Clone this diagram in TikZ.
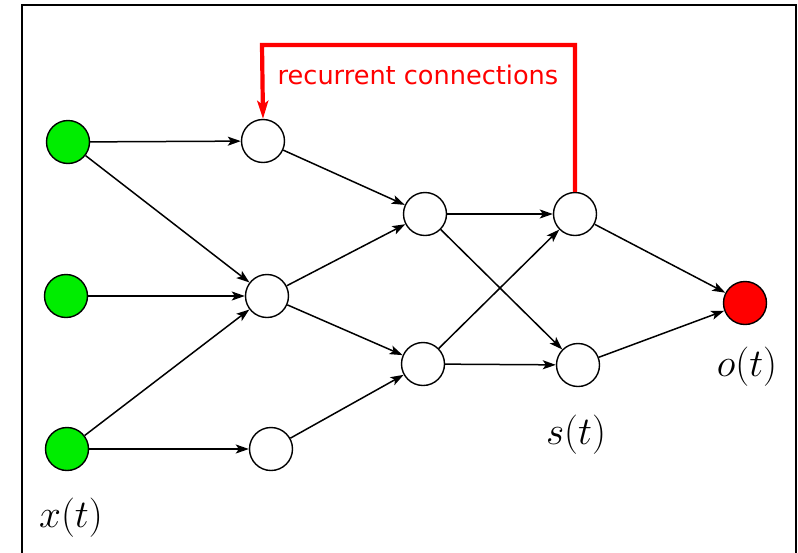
\documentclass[tikz,border=0pt]{standalone}
\usepackage{amsmath}
\usepackage{fontspec}
\usepackage{xcolor}
\usepackage{tikz}
\usetikzlibrary{arrows.meta}
\newfontfamily\labelfont{DejaVu Sans}
\definecolor{vert}{rgb}{0.0, 0.93, 0.0}
\definecolor{rouge}{rgb}{1.0, 0.0, 0.0}

\begin{document}
\begin{tikzpicture}[x=1pt, y=-1pt,
    neuron/.style={circle, draw, line width=1.4pt, minimum size=43pt, inner sep=0pt, fill=white},
    conn/.style={line width=1.5pt, -{Stealth[length=13pt, width=9pt, inset=3pt]}},
    lab/.style={font=\fontsize{24.88}{30}\selectfont, scale=1.58}]
            \clip (0,0) rectangle (798,552);
            % Cadre
            \draw[line width=1.8pt] (22,5) rectangle (796,570);

            % Entrees
            \node[neuron, fill=vert] (in1) at (68,142) {};
            \node[neuron, fill=vert] (in2) at (66,296) {};
            \node[neuron, fill=vert] (in3) at (67,449) {};

            % Couches cachees
            \node[neuron] (ha) at (263,141) {};
            \node[neuron] (hb) at (267,296) {};
            \node[neuron] (hc) at (271,449) {};
            \node[neuron] (ka) at (425,214) {};
            \node[neuron] (kb) at (423,364) {};
            \node[neuron] (sa) at (575,214) {};
            \node[neuron] (sb) at (578,365) {};

            % Sortie
            \node[neuron, fill=rouge] (out) at (745,303) {};

            % Connexions
            \draw[conn] (in1) -- (ha);
            \draw[conn] (in1) -- (hb);
            \draw[conn] (in2) -- (hb);
            \draw[conn] (in3) -- (hb);
            \draw[conn] (in3) -- (hc);
            \draw[conn] (ha) -- (ka);
            \draw[conn] (hb) -- (ka);
            \draw[conn] (hb) -- (kb);
            \draw[conn] (hc) -- (kb);
            \draw[conn] (ka) -- (sa);
            \draw[conn] (ka) -- (sb);
            \draw[conn] (kb) -- (sa);
            \draw[conn] (kb) -- (sb);
            \draw[conn] (sa) -- (out);
            \draw[conn] (sb) -- (out);

            % Boucle recurrente
            \draw[rouge, line width=4.2pt, -{Stealth[length=18pt, width=11pt, inset=4pt]}]
                (sa.north) -- (575,45) -- (262,45) -- (ha.north);
            \node[rouge, font=\labelfont\fontsize{25.6}{30}\selectfont] (rec) at (418,75) {recurrent connections};

            % Etiquettes
            \node[lab] (xt) at (71,518) {$x(t)$};
            \node[lab] (st) at (576,435) {$s(t)$};
            \node[lab] (ot) at (747,367) {$o(t)$};
        \end{tikzpicture}
\end{document}
